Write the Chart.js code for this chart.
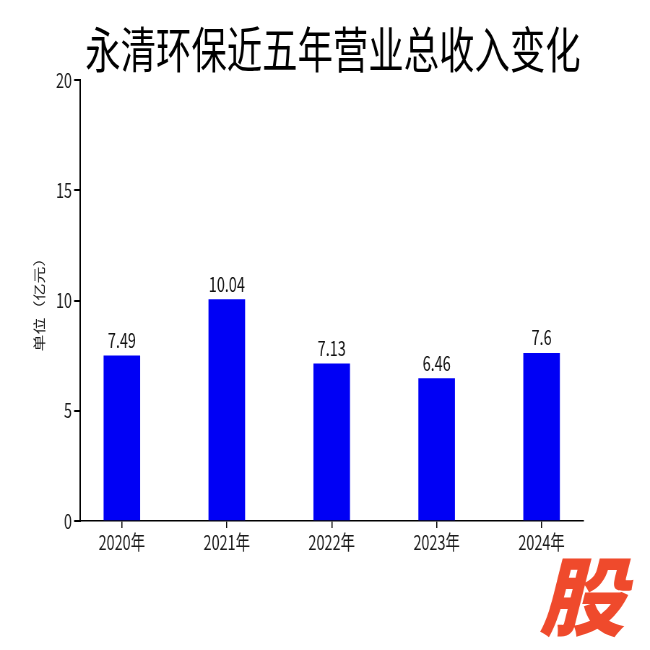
<!DOCTYPE html>
<html>
<head>
<meta charset="utf-8">
<script src="https://cdn.jsdelivr.net/npm/chart.js@4.4.1/dist/chart.umd.min.js"></script>
<style>
  html, body { margin: 0; padding: 0; background: #fff; overflow: hidden; width: 650px; height: 650px; }
  /* 原图横向被压缩过，这里先画宽图再横向缩放 */
  #wrap { width: 900px; height: 650px; transform: scaleX(0.7222); transform-origin: 0 0; }
</style>
</head>
<body>
<div id="wrap"><canvas id="myChart01"></canvas></div>
<script>
// 数据
var years = ['2020年', '2021年', '2022年', '2023年', '2024年'];
var revenue = [7.49, 10.04, 7.13, 6.46, 7.6];
var yTicks = [0, 5, 10, 15, 20];

var SQUISH = 0.7222;
var cjk = "'Noto Sans CJK SC', sans-serif";

// 标题、柱顶数值、水印
var labelPlugin = {
    id: 'labels',
    afterDatasetsDraw: function (chart) {
        var ctx = chart.ctx;
        var meta = chart.getDatasetMeta(0);
        ctx.save();
        ctx.fillStyle = '#111';
        ctx.font = "20px " + cjk;
        ctx.textAlign = 'center';
        ctx.textBaseline = 'alphabetic';
        meta.data.forEach(function (bar, i) {
            ctx.fillText(String(revenue[i]), bar.x, bar.y - 8);
        });
        ctx.restore();
    },
    afterDraw: function (chart) {
        var ctx = chart.ctx;
        // 标题
        ctx.save();
        ctx.fillStyle = '#000';
        ctx.font = "49px " + cjk;
        ctx.textAlign = 'center';
        ctx.textBaseline = 'middle';
        ctx.fillText('永清环保近五年营业总收入变化', 333 / SQUISH, 49);
        ctx.restore();
        // 水印
        ctx.save();
        ctx.translate(582 / SQUISH, 596);
        ctx.scale(1 / SQUISH, 1);
        ctx.fillStyle = '#EF4A2C';
        ctx.font = "italic 900 86px " + cjk;
        ctx.textAlign = 'center';
        ctx.textBaseline = 'middle';
        ctx.fillText('股', 0, 0);
        ctx.restore();
    }
};

var ctx01 = document.getElementById('myChart01');
var chart01 = new Chart(ctx01, {
    type: 'bar',
    data: {
        datasets: [{
            data: revenue.map(function (v, i) { return { x: i, y: v }; }),
            backgroundColor: '#0000F5',
            borderWidth: 0,
            barThickness: 50
        }]
    },
    options: {
        responsive: true,
        maintainAspectRatio: false,
        animation: false,
        layout: { padding: { left: 44, right: 92, top: 80, bottom: 94 } },
        plugins: {
            legend: { display: false },
            tooltip: { enabled: false },
            title: { display: false }
        },
        scales: {
            x: {
                type: 'linear',
                offset: false,
                min: -0.4,
                max: 4.4,
                afterBuildTicks: function (axis) {
                    axis.ticks = years.map(function (y, i) { return { value: i }; });
                },
                ticks: {
                    color: '#1a1a1a',
                    font: { family: cjk, size: 20 },
                    callback: function (v) { return years[v]; },
                    maxRotation: 0,
                    padding: 2
                },
                grid: { offset: false, drawOnChartArea: false, drawTicks: true, tickLength: 7, color: '#000', lineWidth: 1.5 },
                border: { color: '#000', width: 1.5 }
            },
            y: {
                min: 0,
                max: 20,
                afterBuildTicks: function (axis) {
                    axis.ticks = yTicks.map(function (v) { return { value: v }; });
                },
                ticks: {
                    color: '#1a1a1a',
                    font: { family: cjk, size: 20 },
                    padding: 3
                },
                title: {
                    display: true,
                    text: '单位（亿元）',
                    color: '#1a1a1a',
                    font: { family: cjk, size: 17 },
                    padding: { top: 0, bottom: 10 }
                },
                grid: { drawOnChartArea: false, drawTicks: true, tickLength: 8, color: '#000', lineWidth: 2 },
                border: { color: '#000', width: 2 }
            }
        }
    },
    plugins: [labelPlugin]
});
</script>
</body>
</html>
